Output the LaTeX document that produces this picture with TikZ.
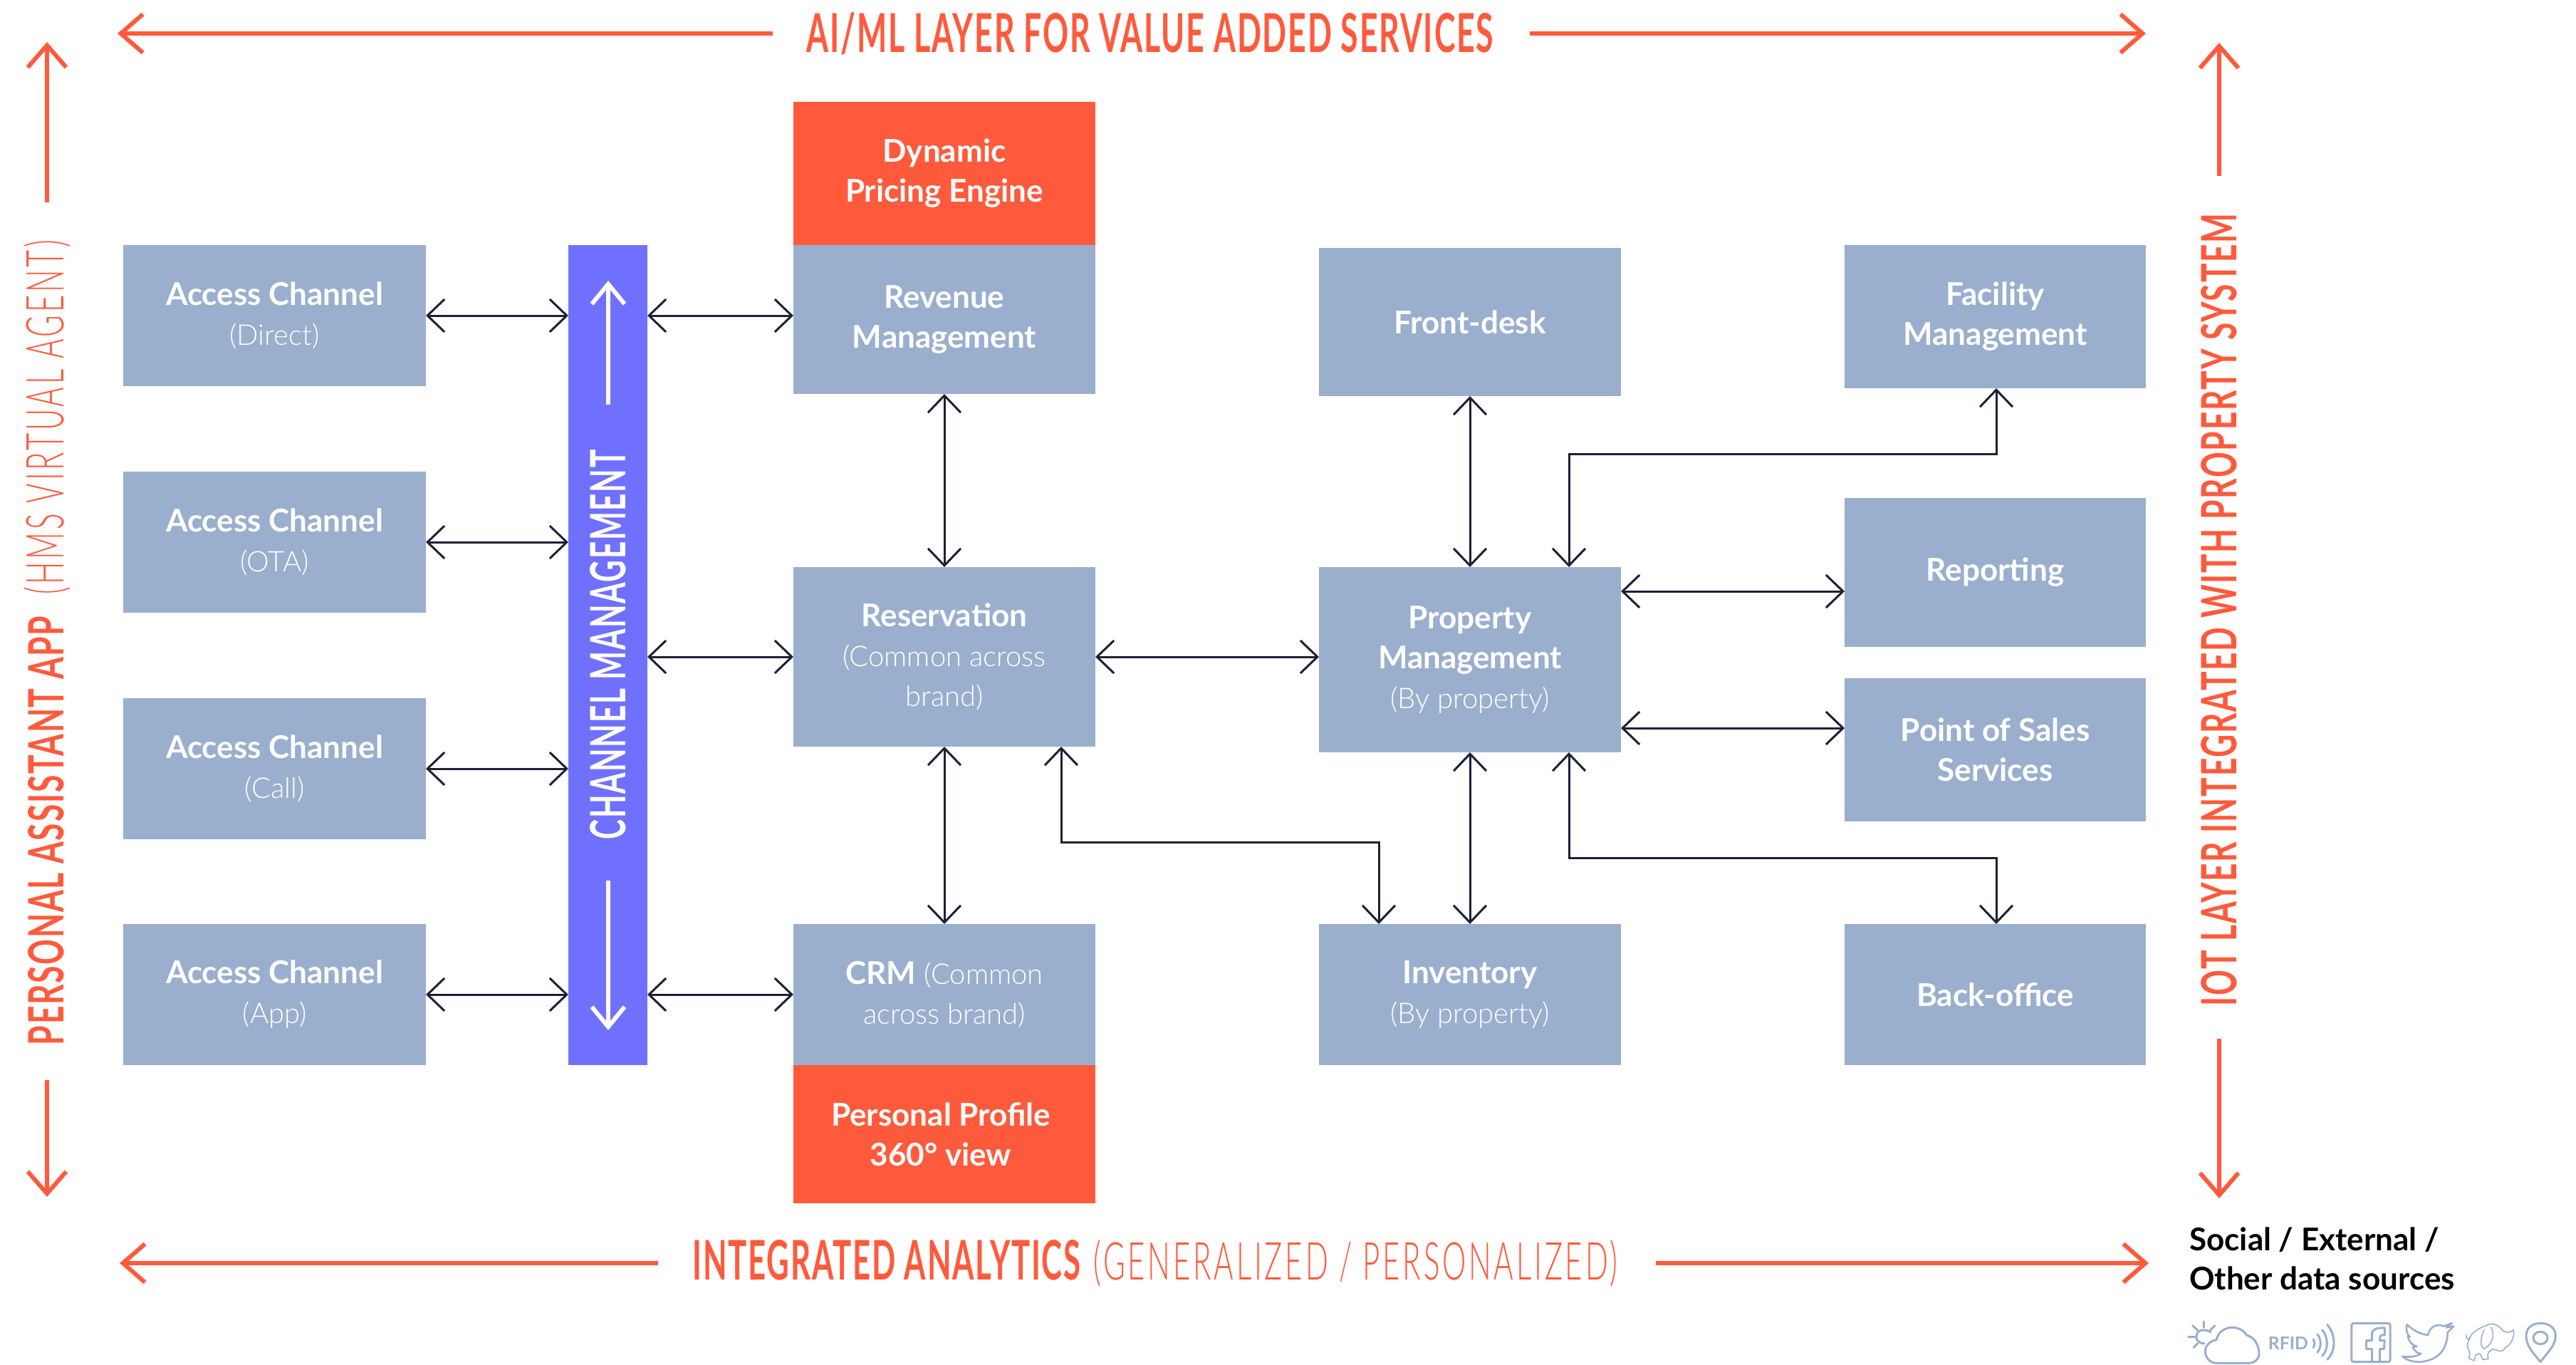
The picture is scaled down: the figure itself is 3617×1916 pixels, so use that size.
\documentclass[tikz,border=0pt]{standalone}
\usepackage{fontspec}
\usetikzlibrary{arrows.meta}
\setmainfont{Lato}
\newfontfamily\lightf{Lato Light}
\newfontfamily\lightsp[LetterSpace=9]{Lato Light}
\newfontfamily\boldsp[LetterSpace=4]{Lato}
\definecolor{org}{HTML}{FF5A3C}
\definecolor{blu}{HTML}{9AAFCE}
\definecolor{pur}{HTML}{7070FF}
\definecolor{drk}{HTML}{1C2038}
\newcommand\hb[3]{\resizebox{#1pt}{#2pt}{\boldsp\bfseries #3}}
\newcommand\hl[3]{\resizebox{#1pt}{#2pt}{\lightsp #3}}
\newcommand\bd[1]{{\fontsize{44}{56}\selectfont\bfseries #1}}
\newcommand\lt[1]{{\fontsize{40}{56}\selectfont\lightf #1}}
\tikzset{
  boxbase/.style={anchor=north west,inner sep=0pt,outer sep=0pt,text=white,align=center,font=\fontsize{44}{56}\selectfont},
  bluebox/.style={boxbase,fill=blu,minimum width=#1pt},
  redbox/.style={boxbase,fill=org,minimum width=#1pt},
  headtext/.style={inner sep=0pt,outer sep=0pt,text=org},
  blk/.style={line width=3pt,draw=drk,line join=miter,>={Straight Barb[length=24pt,width=46pt]}},
  orng/.style={line width=6pt,draw=org,>={Straight Barb[length=31pt,width=54pt]}},
  whtarr/.style={line width=6pt,draw=white,>={Straight Barb[length=28pt,width=46pt]}},
  icon/.style={draw=blu,line width=3pt,line join=round,line cap=round},
}
\begin{document}
\begin{tikzpicture}[x=1pt,y=-1pt]
\useasboundingbox[fill=white] (0,0) rectangle (3617,1916);
% left column
\node[bluebox=425,minimum height=198pt] (acc1) at (173,344) {\bd{Access Channel}\\ \lt{(Direct)}};
\node[bluebox=425,minimum height=198pt] (acc2) at (173,662) {\bd{Access Channel}\\ \lt{(OTA)}};
\node[bluebox=425,minimum height=198pt] (acc3) at (173,980) {\bd{Access Channel}\\ \lt{(Call)}};
\node[bluebox=425,minimum height=198pt] (acc4) at (173,1297) {\bd{Access Channel}\\ \lt{(App)}};
% channel bar
\node[boxbase,fill=pur,minimum width=111pt,minimum height=1151pt] (bar) at (798,344) {};
\node[headtext,text=white,rotate=90] (chan) at (854,905) {\hb{547}{50}{CHANNEL MANAGEMENT}};
\coordinate (bartop) at (854,394);
\coordinate (barbot) at (854,1446);
\draw[whtarr,->] ([yshift=63pt]chan.east) -- (bartop);
\draw[whtarr,->] ([yshift=-57pt]chan.west) -- (barbot);
% second column
\node[redbox=424,minimum height=201pt] (dyn) at (1114,143) {\bd{Dynamic}\\ \bd{Pricing Engine}};
\node[bluebox=424,minimum height=209pt] (rev) at (1114,344) {\bd{Revenue}\\ \bd{Management}};
\node[bluebox=424,minimum height=252pt] (res) at (1114,796) {\bd{Reservation}\\ \lt{(Common across}\\ \lt{brand)}};
\node[bluebox=424,minimum height=198pt] (crm) at (1114,1297) {\bd{CRM} \lt{(Common}\\ \lt{across brand)}};
\node[redbox=424,minimum height=194pt] (pro) at (1114,1495) {\bd{Personal Profile}\hspace*{10pt}\\ \bd{360° view}\hspace*{10pt}};
% third column
\node[bluebox=424,minimum height=208pt] (fro) at (1852,348) {\bd{Front-desk}};
\node[bluebox=424,minimum height=260pt] (prop) at (1852,796) {\bd{Property}\\ \bd{Management}\\ \lt{(By property)}};
\node[bluebox=424,minimum height=198pt] (inv) at (1852,1297) {\bd{Inventory}\\ \lt{(By property)}};
% fourth column
\node[bluebox=423,minimum height=201pt] (fac) at (2590,344) {\bd{Facility}\\ \bd{Management}};
\node[bluebox=423,minimum height=209pt] (rep) at (2590,699) {\bd{Reporting}};
\node[bluebox=423,minimum height=201pt] (pos) at (2590,952) {\bd{Point of Sales}\\ \bd{Services}};
\node[bluebox=423,minimum height=198pt] (bac) at (2590,1297) {\bd{Back-office}};
% connectors
\draw[blk,<->] (acc1.east) -- (acc1.east -| bar.west);
\draw[blk,<->] (acc2.east) -- (acc2.east -| bar.west);
\draw[blk,<->] (acc3.east) -- (acc3.east -| bar.west);
\draw[blk,<->] (acc4.east) -- (acc4.east -| bar.west);
\draw[blk,<->] (acc1.east -| bar.east) -- (acc1.east -| rev.west);
\draw[blk,<->] (res.west -| bar.east) -- (res.west);
\draw[blk,<->] (crm.west -| bar.east) -- (crm.west);
\draw[blk,<->] (rev.south) -- (res.north);
\draw[blk,<->] (res.south) -- (crm.north);
\draw[blk,<->] (res.east) -- (res.east -| prop.west);
\draw[blk,<->] (fro.south) -- (prop.north);
\draw[blk,<->] (prop.south) -- (inv.north);
\coordinate (lrep) at (0,830);
\coordinate (lpos) at (0,1022);
\draw[blk,<->] (prop.east |- lrep) -- (rep.west |- lrep);
\draw[blk,<->] (prop.east |- lpos) -- (pos.west |- lpos);
\coordinate (va) at (1490,0);
\coordinate (vb) at (1936,0);
\coordinate (vc) at (2203,0);
\coordinate (vd) at (2803,0);
\coordinate (ha) at (0,1182);
\coordinate (hb) at (0,1204);
\coordinate (hc) at (0,637);
\draw[blk,<->] (res.south -| va) -- (va |- ha) -- (vb |- ha) -- (inv.north -| vb);
\draw[blk,<->] (prop.south -| vc) -- (vc |- hb) -- (vd |- hb) -- (bac.north -| vd);
\draw[blk,<->] (prop.north -| vc) -- (vc |- hc) -- (vd |- hc) -- (fac.south -| vd);
% headings
\node[headtext] (ai) at (1615,47) {\hb{964}{56}{AI/ML LAYER FOR VALUE ADDED SERVICES}};
\node[headtext] (ana) at (1622,1773) {\hb{545}{56}{INTEGRATED ANALYTICS}\hspace{18pt}\hl{736}{56}{(GENERALIZED / PERSONALIZED)}};
\node[headtext,rotate=90] (lft) at (66,902) {\hb{602}{50}{PERSONAL ASSISTANT APP}\hspace{30pt}\hl{498}{56}{(HMS VIRTUAL AGENT)}};
\node[headtext,rotate=90] (rgt) at (3116,856) {\hb{1112}{50}{IOT LAYER INTEGRATED WITH PROPERTY SYSTEM}};
\coordinate (tl) at (165,47);
\coordinate (tr) at (3013,47);
\coordinate (bl) at (168,1773);
\coordinate (br) at (3017,1773);
\coordinate (lt) at (66,59);
\coordinate (lb) at (66,1680);
\coordinate (rt) at (3116,60);
\coordinate (rb) at (3116,1682);
\draw[orng,->] ([xshift=-48pt]ai.west) -- (tl);
\draw[orng,->] ([xshift=51pt]ai.east) -- (tr);
\draw[orng,->] ([xshift=-48pt]ana.west) -- (bl);
\draw[orng,->] ([xshift=53pt]ana.east) -- (br);
\draw[orng,->] ([yshift=53pt]lft.east) -- (lt);
\draw[orng,->] ([yshift=-49pt]lft.west) -- (lb);
\draw[orng,->] ([yshift=53pt]rgt.east) -- (rt);
\draw[orng,->] ([yshift=-46pt]rgt.west) -- (rb);
% data sources
\node[anchor=base west,inner sep=0pt,text=black] (soc) at (3074,1755) {\bd{Social / External /}};
\node[anchor=base west,inner sep=0pt,text=black] (oth) at (3074,1810) {\bd{Other data sources}};
% icons, drawn in the crop's own coordinates
\begin{scope}[shift={(3000pt,-1650pt)},x=0.3935pt,y=-0.3333pt]
 \draw[icon] (240,615)--(240,640) (200,632)--(218,652) (280,632)--(262,652) (185,680)--(208,680) (203,725)--(218,707);
 \draw[icon] (265,660) .. controls (235,640) and (212,655) .. (213,680) .. controls (213,695) and (225,708) .. (242,708);
 \draw[icon] (285,790) .. controls (260,790) and (245,765) .. (245,740) .. controls (245,715) and (265,695) .. (285,692) .. controls (290,660) and (315,640) .. (340,640) .. controls (365,640) and (385,655) .. (392,672) .. controls (420,680) and (437,715) .. (437,750) .. controls (437,775) and (420,790) .. (400,790) -- cycle;
 \node[inner sep=0pt,text=blu] (rfid) at (541,708) {\resizebox{56pt}{18pt}{\bfseries RFID}};
 \draw[icon] (630,690) .. controls (637,700) and (637,715) .. (630,725)
   (645,668) .. controls (660,690) and (660,725) .. (645,745)
   (662,650) .. controls (685,680) and (685,735) .. (662,760)
   (680,628) .. controls (712,670) and (712,740) .. (680,775);
 \draw[icon,rounded corners=3pt] (767,622) rectangle (905,785);
 \draw[icon] (840,785)--(840,730)--(820,730)--(820,695)--(840,695)--(840,665) .. controls (840,650) and (855,640) .. (885,642)--(885,672)--(875,672) .. controls (868,672) and (868,678) .. (868,695)--(885,695)--(883,730)--(868,730)--(868,785);
 \draw[icon,line width=2.6pt] (948,762) .. controls (975,790) and (1020,790) .. (1050,775) .. controls (1095,755) and (1110,705) .. (1110,660) -- (1132,635) -- (1105,640) -- (1125,622) -- (1095,635) .. controls (1075,622) and (1045,635) .. (1040,672) .. controls (1010,668) and (985,650) .. (965,628) .. controls (960,650) and (965,670) .. (975,680) -- (968,680) .. controls (975,705) and (985,715) .. (1000,720) -- (985,722) .. controls (995,745) and (1005,750) .. (1015,750) .. controls (995,765) and (970,765) .. (948,762) -- cycle;
 \draw[icon,line width=1.6pt] (1195,670) .. controls (1210,650) and (1235,635) .. (1265,625) .. controls (1285,625) and (1300,640) .. (1305,652) .. controls (1320,665) and (1335,660) .. (1345,650) .. controls (1350,680) and (1335,715) .. (1315,725) .. controls (1310,740) and (1295,745) .. (1285,735) -- (1270,732) .. controls (1255,740) and (1250,750) .. (1255,772) -- (1235,775) -- (1225,750) -- (1210,755) -- (1205,780) -- (1185,770) .. controls (1190,755) and (1190,745) .. (1185,735) .. controls (1175,715) and (1185,690) .. (1195,670) -- cycle;
 \draw[icon,line width=1.6pt] (1240,650) .. controls (1225,690) and (1225,720) .. (1240,730) .. controls (1270,710) and (1280,670) .. (1265,640);
 \draw[icon,line width=1.6pt] (1190,690) .. controls (1175,690) and (1175,680) .. (1178,672);
 \draw[icon] (1441,785) .. controls (1410,740) and (1390,715) .. (1390,675) .. controls (1390,640) and (1415,622) .. (1441,622) .. controls (1470,622) and (1495,640) .. (1495,675) .. controls (1495,715) and (1470,740) .. (1441,785) -- cycle;
 \draw[icon] (1441,684) ellipse [x radius=10pt,y radius=8.7pt];
\end{scope}
\end{tikzpicture}
\end{document}
